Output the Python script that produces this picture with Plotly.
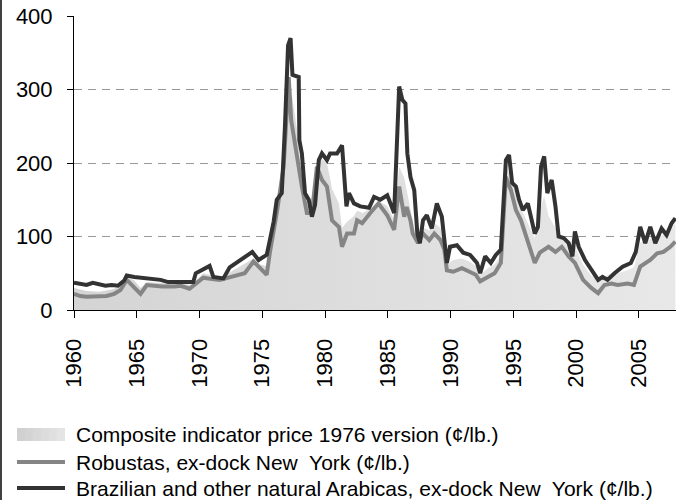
import plotly.graph_objects as go

# Brazilian and other natural Arabicas (dark line)
arabica_yr = [1960.0, 1960.5, 1961.0, 1961.5, 1962.0, 1962.5, 1963.0, 1963.5, 1964.0, 1964.2,
              1964.8, 1965.5, 1966.0, 1966.9, 1967.5, 1968.5, 1969.5, 1969.7, 1970.3, 1970.8,
              1971.1, 1971.9, 1972.4, 1973.0, 1973.5, 1974.2, 1974.7, 1975.35, 1975.6, 1975.9,
              1976.15, 1976.55, 1976.8, 1977.05, 1977.25, 1977.4, 1977.9, 1977.95, 1978.15, 1978.4,
              1978.7, 1978.95, 1979.2, 1979.5, 1979.75, 1980.15, 1980.4, 1980.95, 1981.35, 1981.5,
              1981.7, 1981.9, 1982.3, 1982.8, 1983.5, 1983.9, 1984.4, 1984.95, 1985.5, 1985.9,
              1986.15, 1986.4, 1986.55, 1986.8, 1987.1, 1987.35, 1987.55, 1987.8, 1988.1, 1988.5,
              1988.9, 1989.3, 1989.7, 1989.95, 1990.5, 1991.0, 1991.55, 1992.1, 1992.35, 1992.75,
              1993.2, 1993.6, 1994.0, 1994.4, 1994.65, 1994.9, 1995.2, 1995.45, 1995.75, 1996.15,
              1996.7, 1996.95, 1997.2, 1997.45, 1997.7, 1998.05, 1998.35, 1998.6, 1999.0, 1999.4,
              1999.7, 1999.9, 2000.2, 2000.7, 2001.2, 2001.75, 2002.1, 2002.5, 2003.05, 2003.7,
              2004.35, 2004.75, 2005.1, 2005.5, 2005.9, 2006.3, 2006.8, 2007.2, 2007.6, 2007.9]
arabica = [37, 36, 34, 37, 35, 33, 34, 33, 40, 47,
           45, 44, 43, 41, 38, 38, 38, 50, 55, 60,
           45, 43, 58, 65, 71, 79, 68, 75, 95, 120,
           150, 159, 249, 360, 370, 320, 317, 231, 213, 159,
           150, 127, 143, 204, 213, 204, 213, 213, 224, 190,
           141, 159, 145, 141, 139, 154, 150, 156, 132, 304,
           286, 281, 213, 181, 163, 104, 91, 122, 129, 111,
           145, 127, 64, 86, 88, 78, 75, 64, 50, 73,
           64, 75, 82, 204, 211, 173, 168, 150, 136, 145,
           104, 113, 195, 209, 159, 177, 141, 100, 98, 91,
           73, 107, 86, 68, 54, 41, 45, 41, 50, 59,
           64, 79, 113, 91, 113, 91, 111, 102, 118, 125]

# Robustas (grey line)
robusta_yr = [1960.0, 1960.5, 1961.0, 1962.0, 1962.6, 1963.2, 1963.7, 1964.2, 1964.7, 1965.3,
              1965.8, 1966.5, 1967.0, 1968.0, 1968.5, 1969.2, 1969.6, 1970.3, 1971.0, 1971.6,
              1972.3, 1973.0, 1973.6, 1974.3, 1974.8, 1975.35, 1975.6, 1976.15, 1976.7, 1977.1,
              1977.3, 1977.8, 1978.15, 1978.55, 1978.95, 1979.35, 1979.75, 1980.15, 1980.55, 1981.1,
              1981.35, 1981.75, 1982.3, 1982.55, 1982.95, 1983.6, 1984.25, 1984.95, 1985.5, 1985.9,
              1986.3, 1986.5, 1986.8, 1986.98, 1987.4, 1987.8, 1988.3, 1988.7, 1989.2, 1989.5,
              1989.7, 1990.2, 1990.9, 1991.5, 1992.0, 1992.35, 1993.0, 1993.5, 1994.0, 1994.4,
              1994.8, 1995.2, 1995.6, 1996.15, 1996.7, 1997.1, 1997.45, 1997.8, 1998.35, 1998.85,
              1999.4, 1999.9, 2000.55, 2001.2, 2001.75, 2002.25, 2002.8, 2003.3, 2004.1, 2004.6,
              2005.1, 2005.9, 2006.45, 2006.95, 2007.5, 2007.9]
robusta = [22, 19, 18, 18, 19, 22, 27, 41, 33, 22,
           34, 33, 32, 32, 33, 29, 35, 44, 42, 41,
           44, 48, 50, 66, 57, 48, 78, 132, 195, 317,
           258, 204, 168, 132, 132, 195, 177, 168, 122, 113,
           86, 104, 104, 122, 118, 132, 145, 129, 109, 168,
           127, 140, 122, 104, 91, 104, 95, 104, 95, 82,
           54, 52, 57, 52, 48, 39, 45, 50, 64, 181,
           163, 136, 122, 95, 64, 78, 82, 86, 79, 86,
           73, 64, 41, 30, 23, 34, 36, 34, 36, 34,
           59, 68, 77, 79, 86, 93]

# Composite indicator price 1976 version (area)
comp_yr = [1960.0, 1960.5, 1961.0, 1962.0, 1963.0, 1963.7, 1964.2, 1964.8, 1965.3, 1965.8,
           1966.5, 1967.5, 1968.5, 1969.3, 1969.7, 1970.3, 1971.0, 1971.6, 1972.3, 1973.0,
           1973.6, 1974.3, 1974.8, 1975.35, 1975.6, 1976.15, 1976.7, 1977.1, 1977.3, 1977.8,
           1978.15, 1978.55, 1978.95, 1979.35, 1979.75, 1980.15, 1980.55, 1981.1, 1981.35, 1981.75,
           1982.3, 1982.55, 1983.0, 1983.6, 1984.25, 1984.95, 1985.5, 1985.9, 1986.3, 1986.8,
           1987.1, 1987.4, 1987.8, 1988.3, 1988.7, 1989.2, 1989.5, 1989.7, 1990.2, 1990.9,
           1991.5, 1992.0, 1992.35, 1993.0, 1993.5, 1994.0, 1994.4, 1994.8, 1995.2, 1995.6,
           1996.15, 1996.7, 1997.1, 1997.45, 1997.8, 1998.35, 1998.85, 1999.4, 1999.9, 2000.55,
           2001.2, 2001.75, 2002.25, 2002.8, 2003.3, 2004.1, 2004.6, 2005.1, 2005.9, 2006.45,
           2006.95, 2007.5, 2007.9]
comp = [30, 28, 26, 25, 28, 32, 45, 40, 30, 38,
        37, 36, 36, 34, 40, 50, 47, 44, 50, 57,
        62, 70, 62, 60, 85, 140, 220, 320, 300, 240,
        180, 140, 132, 195, 205, 200, 165, 145, 112, 120,
        128, 135, 132, 138, 148, 142, 122, 195, 180, 135,
        112, 97, 112, 108, 118, 112, 92, 62, 68, 70,
        66, 60, 48, 57, 62, 74, 195, 180, 158, 138,
        118, 98, 135, 155, 128, 112, 97, 87, 87, 62,
        47, 42, 46, 50, 50, 54, 58, 92, 96, 100,
        102, 108, 118]

tick_years = [1960, 1965, 1970, 1975, 1980, 1985, 1990, 1995, 2000, 2005]
legend_names = ["Composite indicator price 1976 version (\u00a2/lb.)",
                "Robustas, ex-dock New  York (\u00a2/lb.)",
                "Brazilian and other natural Arabicas, ex-dock New  York (\u00a2/lb.)"]

FONT = "Liberation Sans, Arial, sans-serif"
DARK = "#333333"
GREY = "#858585"

fig = go.Figure()
fig.add_trace(go.Scatter(x=comp_yr, y=comp, mode="lines", fill="tozeroy",
                         line=dict(width=0, color="#dcdcdc"),
                         fillgradient=dict(type="horizontal",
                                           colorscale=[[0, "#d4d4d4"], [1, "#e8e8e8"]]),
                         name=legend_names[0]))
fig.add_trace(go.Scatter(x=robusta_yr, y=robusta, mode="lines",
                         line=dict(width=4, color=GREY), name=legend_names[1]))
fig.add_trace(go.Scatter(x=arabica_yr, y=arabica, mode="lines",
                         line=dict(width=4, color=DARK), name=legend_names[2]))

# plot area in pixels: x 74..676, y 16..310
L, T, W, H = 74, 16, 602, 294


def px(x):
    return (x - L) / W


def py(y):
    return (T + H - y) / H


shapes = []
annotations = []
# hand-made legend below the plot (gradient box drawn as a few strips)
box_cols = ["#d0d0d0", "#d4d4d4", "#d8d8d8", "#dcdcdc", "#e0e0e0", "#e4e4e4"]
for i, c in enumerate(box_cols):
    shapes.append(dict(type="rect", xref="paper", yref="paper",
                       x0=px(17 + i * 8), x1=px(25 + i * 8), y0=py(441), y1=py(428),
                       line=dict(width=0), fillcolor=c))
shapes.append(dict(type="line", xref="paper", yref="paper",
                   x0=px(17), x1=px(65), y0=py(462), y1=py(462),
                   line=dict(width=4, color=GREY)))
shapes.append(dict(type="line", xref="paper", yref="paper",
                   x0=px(17), x1=px(65), y0=py(488), y1=py(488),
                   line=dict(width=4, color=DARK)))
for name, yy in zip(legend_names, [434, 462, 488]):
    annotations.append(dict(text=name, xref="paper", yref="paper", x=px(74), y=py(yy),
                            xanchor="left", yanchor="middle", showarrow=False,
                            font=dict(family=FONT, size=21, color="#000000")))
# chart border on the left edge
shapes.append(dict(type="line", xref="paper", yref="paper",
                   x0=px(1), x1=px(1), y0=py(0), y1=py(500),
                   line=dict(width=1.5, color="#000000")))

fig.update_layout(
    width=686, height=500,
    margin=dict(l=L, r=686 - L - W, t=T, b=500 - T - H),
    paper_bgcolor="white", plot_bgcolor="white",
    showlegend=False,
    shapes=shapes, annotations=annotations,
    font=dict(family=FONT, color="#000000"),
)
fig.update_xaxes(range=[1960, 2007.95], tickvals=tick_years, ticktext=[str(t) for t in tick_years],
                 tickangle=-90, tickfont=dict(size=22), ticks="outside", ticklen=7,
                 tickcolor="#000000", showline=True, linecolor="#000000", linewidth=1,
                 showgrid=False, zeroline=False, ticklabelstandoff=12, automargin=False)
fig.update_yaxes(range=[0, 400], tickvals=[0, 100, 200, 300, 400], tickfont=dict(size=22),
                 ticks="outside", ticklen=6, tickcolor="#000000", showline=True,
                 linecolor="#000000", linewidth=1, showgrid=True, gridcolor="#999999",
                 griddash="8px,6px", gridwidth=1, zeroline=False, ticklabelstandoff=10,
                 automargin=False)

# the page body has a default 8px margin; drop it so the figure fills the window
fig.write_html("out.html", config={"displayModeBar": False},
               post_script="document.body.style.margin='0px';")
